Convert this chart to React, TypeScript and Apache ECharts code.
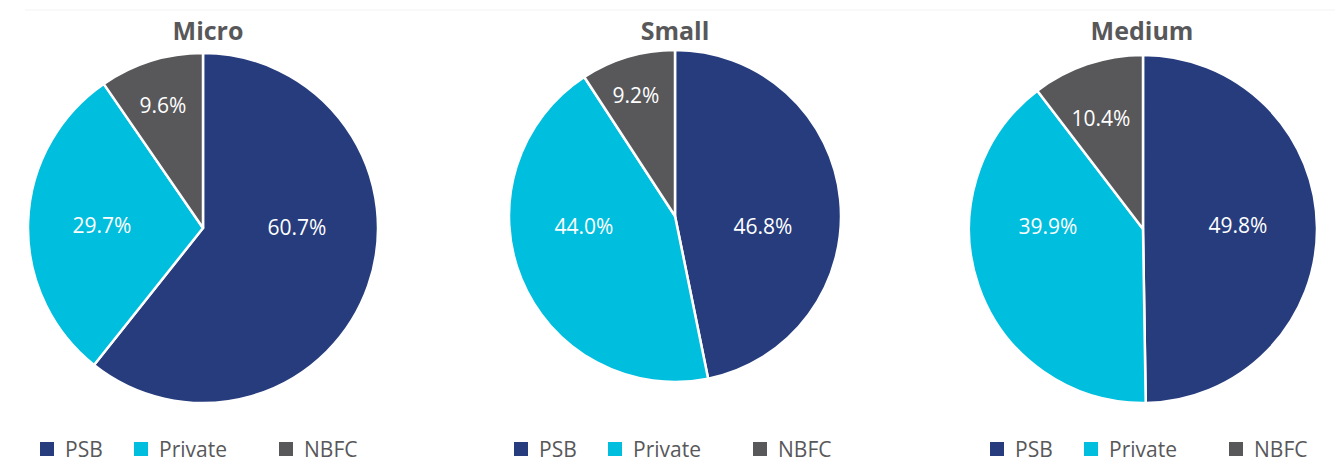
import React, { useEffect, useRef } from "react";
import * as echarts from "echarts";

const categories = ["PSB", "Private", "NBFC"];
const titles = ["Micro", "Small", "Medium"];
const microValues = [60.7, 29.7, 9.6];
const smallValues = [46.8, 44.0, 9.2];
const mediumValues = [49.8, 39.9, 10.4];
const seriesValues = [microValues, smallValues, mediumValues];

const colors = ["#263c7d", "#00bedd", "#58585b"];

// layout (pixels)
const centers: [number, number][] = [
  [203, 228],
  [675, 216],
  [1143, 229],
];
const radii = [175, 166, 174];
const titleX = [203, 670, 1137];
const legendLeft = [38, 512, 988];
const legendOffsets = [0, 94, 239];
// label offsets from pie centre
const labelOffsets: [number, number][][] = [
  [[94, -1], [-101, -3], [-40, -123]],
  [[88, 10], [-91, 10], [-39, -121]],
  [[95, -4], [-95, -3], [-42, -111]],
];

const FONT = "'Open Sans', 'Noto Sans', sans-serif";

export default function App() {
  const ref = useRef<HTMLDivElement>(null);
  useEffect(() => {
    if (!ref.current) return;
    const chart = echarts.init(ref.current, undefined, { renderer: "svg" });
    const series: any[] = seriesValues.map((vals, si) => ({
      type: "pie",
      name: titles[si],
      center: centers[si],
      radius: [0, radii[si]],
      startAngle: 90,
      clockwise: true,
      avoidLabelOverlap: false,
      silent: true,
      itemStyle: { borderColor: "#ffffff", borderWidth: 2.5 },
      label: {
        show: true,
        position: "inside",
        formatter: (p: any) => p.value.toFixed(1) + "%",
        color: "#ffffff",
        fontSize: 21,
        fontFamily: FONT,
      },
      labelLine: { show: false },
      labelLayout: (p: any) => {
        const off = labelOffsets[si][p.dataIndex];
        return {
          x: centers[si][0] + off[0],
          y: centers[si][1] + off[1],
          align: "center",
          verticalAlign: "middle",
        };
      },
      data: categories.map((c, i) => ({
        name: c,
        value: vals[i],
        itemStyle: { color: colors[i] },
      })),
    }));

    const legends: any[] = [];
    legendLeft.forEach((l) => {
      categories.forEach((c, i) => {
        legends.push({
          data: [c],
          left: l + legendOffsets[i],
          top: 438,
          icon: "rect",
          itemWidth: 16,
          itemHeight: 16,
          itemGap: 0,
          padding: 0,
          selectedMode: false,
          textStyle: {
            color: "#58585a",
            fontSize: 21,
            lineHeight: 22,
            fontFamily: FONT,
            padding: [0, 0, 0, 5],
          },
        });
      });
    });

    chart.setOption({
      animation: false,
      color: colors,
      title: titles.map((t, i) => ({
        text: t,
        left: titleX[i],
        top: 12,
        textAlign: "center",
        textStyle: {
          color: "#58585a",
          fontSize: 25,
          fontWeight: "bold",
          fontFamily: FONT,
        },
      })),
      legend: legends,
      graphic: [
        {
          type: "line",
          shape: { x1: 25, y1: 10, x2: 1335, y2: 10 },
          style: { stroke: "#f3f3f3", lineWidth: 1 },
          silent: true,
        },
      ],
      series,
    });
    return () => chart.dispose();
  }, []);
  return <div ref={ref} style={{ width: 1338, height: 463, position: "absolute", left: 0, top: 0 }} />;
}
